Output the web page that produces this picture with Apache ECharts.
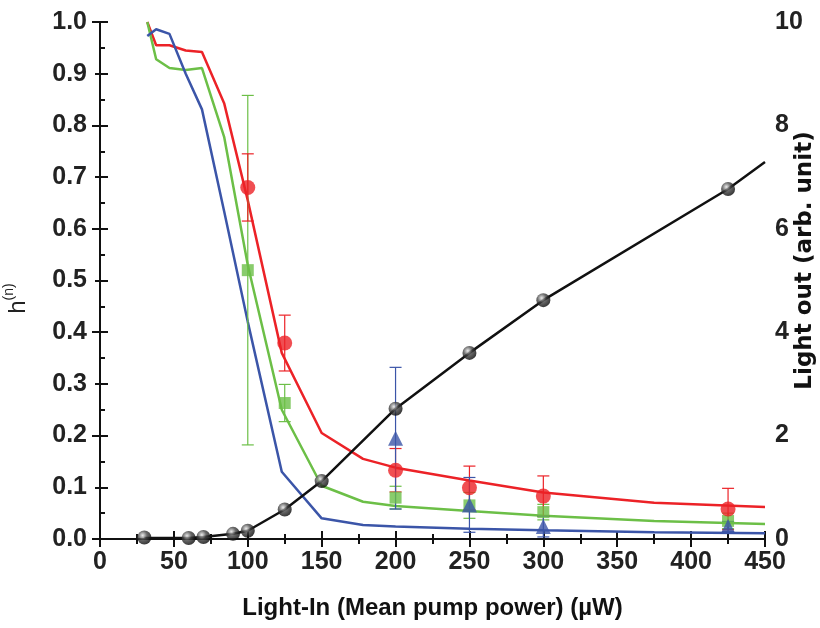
<!DOCTYPE html>
<html>
<head>
<meta charset="utf-8">
<script src="https://cdn.jsdelivr.net/npm/echarts@6/dist/echarts.min.js"></script>
<style>html,body{margin:0;padding:0;background:#fff;}#c{width:820px;height:628px;}</style>
</head>
<body>
<div id="c"></div>
<script>
// ---- data ----
var modelX = [32, 38, 47, 58, 69, 84, 100, 123, 150, 178, 200, 250, 300, 375, 450];
var redModel   = [1.0, 0.955, 0.955, 0.945, 0.942, 0.843, 0.655, 0.36, 0.205, 0.155, 0.138, 0.113, 0.09, 0.07, 0.062];
var greenModel = [1.0, 0.928, 0.911, 0.907, 0.911, 0.778, 0.53, 0.25, 0.103, 0.072, 0.064, 0.054, 0.045, 0.035, 0.029];
var blueModel  = [0.973, 0.986, 0.977, 0.9, 0.831, 0.634, 0.42, 0.13, 0.04, 0.027, 0.024, 0.02, 0.017, 0.013, 0.011];

var markX = [100, 125, 200, 250, 300, 425];
var redY   = [0.68, 0.379, 0.133, 0.099, 0.083, 0.058];
var redErr = [0.065, 0.054, 0.042, 0.042, 0.039, 0.040];
var greenY   = [0.52, 0.263, 0.08, 0.065, 0.052, 0.035];
var greenErr = [0.338, 0.036, 0.022, 0.025, 0.015, 0.015];
var blueX   = [200, 250, 300, 425];
var blueY   = [0.195, 0.066, 0.024, 0.024];
var blueErr = [0.137, 0.053, 0.02, 0.01];

var lightX = [30, 60, 70, 90, 100, 125, 150, 200, 250, 300, 425];
var lightY = [0.03, 0.02, 0.04, 0.1, 0.16, 0.57, 1.12, 2.52, 3.6, 4.62, 6.77];
var lightLineX = [30, 60, 70, 90, 100, 125, 150, 200, 250, 300, 425, 450];
var lightLineY = [0.02, 0.02, 0.04, 0.1, 0.16, 0.57, 1.12, 2.52, 3.6, 4.62, 6.77, 7.29];

var xTicks = [0, 50, 100, 150, 200, 250, 300, 350, 400, 450];

// ---- build ----
var RED = '#ec2227', GREEN = '#6cbf47', BLUE = '#3b55a8';
var FONT = 'Liberation Sans, Arial, sans-serif';
function pairs(xs, ys) { return xs.map(function (x, i) { return [x, ys[i]]; }); }
function errSeries(xs, ys, es, color) {
  return {
    type: 'custom', xAxisIndex: 0, yAxisIndex: 0, z: 3, silent: true,
    data: xs.map(function (x, i) { return [x, Math.max(0, ys[i] - es[i]), ys[i] + es[i]]; }),
    renderItem: function (params, api) {
      var lo = api.coord([api.value(0), api.value(1)]);
      var hi = api.coord([api.value(0), api.value(2)]);
      var w = 6;
      var st = { stroke: color, lineWidth: 1.2 };
      return { type: 'group', children: [
        { type: 'line', shape: { x1: lo[0], y1: lo[1], x2: hi[0], y2: hi[1] }, style: st },
        { type: 'line', shape: { x1: lo[0] - w, y1: lo[1], x2: lo[0] + w, y2: lo[1] }, style: st },
        { type: 'line', shape: { x1: hi[0] - w, y1: hi[1], x2: hi[0] + w, y2: hi[1] }, style: st }
      ] };
    }
  };
}
var tickLbl = { color: '#222', fontSize: 25, fontWeight: 'bold', fontFamily: FONT };
var axisLineStyle = { show: true, lineStyle: { color: '#111', width: 2 } };
var tickStyle = { show: true, inside: true, length: 8, lineStyle: { color: '#111', width: 2 } };
var minorStyle = { show: true, splitNumber: 2, length: 5, lineStyle: { color: '#111', width: 2 } };

var option = {
  animation: false,
  backgroundColor: '#fff',
  grid: { left: 100, right: 55, top: 22, bottom: 89, containLabel: false, outerBoundsMode: 'none' },
  xAxis: [{
    type: 'value', min: 0, max: 450, interval: 50, position: 'bottom',
    axisLine: axisLineStyle, axisTick: tickStyle, minorTick: minorStyle,
    splitLine: { show: false },
    axisLabel: Object.assign({ margin: 11, formatter: function (v) { return xTicks.indexOf(v) >= 0 ? String(v) : ''; } }, tickLbl),
    name: 'Light-In (Mean pump power) (µW)', nameLocation: 'middle', nameGap: 57, nameMoveOverlap: false,
    nameTextStyle: { color: '#111', fontSize: 24, fontWeight: 'bold', fontFamily: FONT }
  }, {
    type: 'value', min: 0, max: 450, interval: 50, position: 'top',
    axisLine: axisLineStyle, axisTick: tickStyle, minorTick: minorStyle,
    splitLine: { show: false }, axisLabel: { show: false }
  }],
  yAxis: [{
    type: 'value', min: 0, max: 1, interval: 0.1, position: 'left',
    axisLine: axisLineStyle, axisTick: tickStyle, minorTick: minorStyle,
    splitLine: { show: false },
    axisLabel: Object.assign({ margin: 13, formatter: function (v) { return v.toFixed(1); } }, tickLbl),
    name: '{h|h}{s|(n)}', nameLocation: 'middle', nameGap: 70, nameRotate: 90, nameMoveOverlap: false,
    nameTextStyle: {
      color: '#222', fontFamily: FONT, padding: [0, 36, 0, 0],
      rich: {
        h: { fontSize: 24, fontFamily: FONT, color: '#222', lineHeight: 28, verticalAlign: 'bottom' },
        s: { fontSize: 14, fontFamily: FONT, color: '#222', lineHeight: 28, verticalAlign: 'top' }
      }
    }
  }, {
    type: 'value', min: 0, max: 10, interval: 2, position: 'right',
    axisLine: axisLineStyle, axisTick: tickStyle, minorTick: minorStyle,
    splitLine: { show: false },
    axisLabel: Object.assign({ margin: 10 }, tickLbl),
    name: 'Light out (arb. unit)', nameLocation: 'middle', nameGap: 29, nameRotate: 90, nameMoveOverlap: false,
    nameTextStyle: { color: '#111', fontSize: 23, fontWeight: 'bold', fontFamily: 'DejaVu Sans, sans-serif', padding: [0, 0, 0, 40] }
  }],
  series: [
    { type: 'line', data: pairs(modelX, redModel), showSymbol: false, lineStyle: { color: RED, width: 2.5 }, z: 2 },
    { type: 'line', data: pairs(modelX, greenModel), showSymbol: false, lineStyle: { color: GREEN, width: 2.5 }, z: 2 },
    { type: 'line', data: pairs(modelX, blueModel), showSymbol: false, lineStyle: { color: BLUE, width: 2.5 }, z: 2 },
    errSeries(markX, greenY, greenErr, GREEN),
    errSeries(markX, redY, redErr, RED),
    errSeries(blueX, blueY, blueErr, BLUE),
    { type: 'line', yAxisIndex: 1, data: pairs(lightLineX, lightLineY), showSymbol: false, lineStyle: { color: '#111', width: 2.5 }, z: 4 },
    { type: 'scatter', data: pairs(markX, greenY), symbol: 'rect', symbolSize: 12, itemStyle: { color: GREEN }, z: 5 },
    { type: 'scatter', data: pairs(blueX, blueY), symbol: 'triangle', symbolSize: 15, itemStyle: { color: BLUE }, z: 6 },
    { type: 'scatter', data: pairs(markX, redY), symbol: 'circle', symbolSize: 15, itemStyle: { color: RED }, z: 5 },
    { type: 'scatter', yAxisIndex: 1, data: pairs(lightX, lightY), symbol: 'circle', symbolSize: 14, z: 7,
      itemStyle: { color: { type: 'radial', x: 0.38, y: 0.35, r: 0.7, colorStops: [
        { offset: 0, color: '#e6e6e6' }, { offset: 0.45, color: '#444' }, { offset: 1, color: '#000' } ] } } }
  ]
};
var chart = echarts.init(document.getElementById('c'), null, { renderer: 'canvas' });
chart.setOption(option);
</script>
</body>
</html>
